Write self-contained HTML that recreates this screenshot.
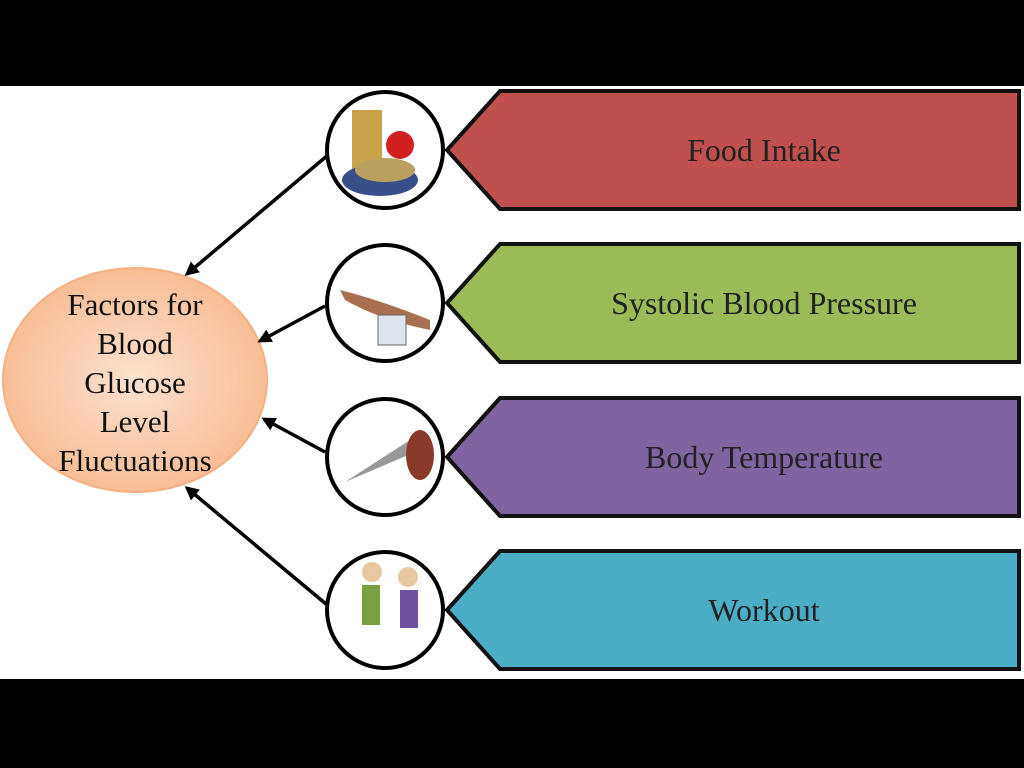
<!DOCTYPE html>
<html><head><meta charset="utf-8"><style>
html,body{margin:0;padding:0;background:#000;}
svg{display:block}
text{font-family:"Liberation Serif",serif;}
</style></head><body>
<svg width="1024" height="768" viewBox="0 0 1024 768">
<defs>
<radialGradient id="g" cx="50%" cy="50%" r="55%">
<stop offset="0" stop-color="#fde2cf"/><stop offset="1" stop-color="#f7b98e"/>
</radialGradient>
<marker id="a" markerWidth="14" markerHeight="14" refX="11" refY="7" orient="auto" markerUnits="userSpaceOnUse">
<path d="M0,0 L14,7 L0,14 z" fill="#000"/></marker>
</defs>
<rect x="0" y="0" width="1024" height="768" fill="#000"/>
<rect x="0" y="86" width="1024" height="593" fill="#fff"/>
<ellipse cx="135" cy="380" rx="132" ry="112" fill="url(#g)" stroke="#f4b183" stroke-width="2"/>
<g font-size="31" text-anchor="middle" fill="#111">
<text x="135" y="315">Factors for</text>
<text x="135" y="354">Blood</text>
<text x="135" y="393">Glucose</text>
<text x="135" y="432">Level</text>
<text x="135" y="471">Fluctuations</text>
</g>
<g stroke="#111" stroke-width="4">
<path d="M447,150 L500,91 L1019,91 L1019,209 L500,209 Z" fill="#c0504d"/>
<path d="M447,303 L500,244 L1019,244 L1019,362 L500,362 Z" fill="#9bbb59"/>
<path d="M447,457 L500,398 L1019,398 L1019,516 L500,516 Z" fill="#8064a2"/>
<path d="M447,610 L500,551 L1019,551 L1019,669 L500,669 Z" fill="#4bacc6"/>
</g>
<g font-size="32" text-anchor="middle" fill="#222">
<text x="764" y="161">Food Intake</text>
<text x="764" y="314">Systolic Blood Pressure</text>
<text x="764" y="468">Body Temperature</text>
<text x="764" y="621">Workout</text>
</g>
<g stroke="#000" stroke-width="3.5" marker-end="url(#a)">
<line x1="328" y1="155" x2="187" y2="274"/>
<line x1="325" y1="306" x2="260" y2="341"/>
<line x1="325" y1="452" x2="264" y2="419"/>
<line x1="326" y1="604" x2="187" y2="488"/>
</g>
<g stroke="#000" stroke-width="4" fill="#fff">
<circle cx="385" cy="150" r="58"/>
<circle cx="385" cy="303" r="58"/>
<circle cx="385" cy="457" r="58"/>
<circle cx="385" cy="610" r="58"/>
</g>
<rect x="352" y="110" width="30" height="60" fill="#c9a24a"/>
<ellipse cx="380" cy="180" rx="38" ry="16" fill="#3a4f8a"/>
<ellipse cx="385" cy="170" rx="30" ry="12" fill="#b8a060"/>
<circle cx="400" cy="145" r="14" fill="#d02020"/>
<path d="M340,290 Q380,300 430,320 L430,330 Q380,320 345,300Z" fill="#a87050"/>
<rect x="378" y="315" width="28" height="30" fill="#dde4ee" stroke="#666"/>
<path d="M345,482 L410,440 L420,450 Z" fill="#999"/>
<ellipse cx="420" cy="455" rx="14" ry="25" fill="#8a3a2a"/>
<rect x="362" y="585" width="18" height="40" fill="#7aa040"/>
<rect x="400" y="590" width="18" height="38" fill="#7050a0"/>
<circle cx="372" cy="572" r="10" fill="#e8c8a0"/>
<circle cx="408" cy="577" r="10" fill="#e8c8a0"/>
</svg>
</body></html>
